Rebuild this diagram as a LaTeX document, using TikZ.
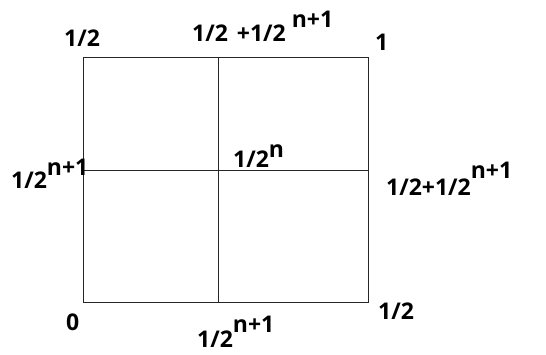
\documentclass[tikz,border=0pt]{standalone}
\usepackage{fontspec}
\setmainfont{Open Sans}
\newcommand{\up}[2]{\raisebox{#1pt}{#2}}

\begin{document}
\begin{tikzpicture}[x=1pt, y=-1pt,
    lab/.style={font=\fontsize{23}{26}\selectfont\bfseries, inner sep=0pt, anchor=base west}]
  \useasboundingbox (0,0) rectangle (546,354);
  % corners and midpoints of the square
  \coordinate (bl) at (83,302);
  \coordinate (br) at (368,302);
  \coordinate (tr) at (368,57);
  \coordinate (tl) at (83,57);
  \coordinate (mt) at (218,57);
  \coordinate (mb) at (218,302);
  \coordinate (ml) at (83,170);
  \coordinate (mr) at (368,170);
  \draw[line width=0.9pt, black!85] (bl) -- (br) -- (tr) -- (tl) -- cycle;
  \draw[line width=0.9pt, black!85] (mt) -- (mb);
  \draw[line width=0.9pt, black!85] (ml) -- (mr);
  % labels
  \node[lab] (tlab) at (64,46) {1/2};
  \node[lab] (mtlab) at (192,41.5) {1/2\hspace{9pt}+1/2\hspace{6pt}\up{14}{n+1}};
  \node[lab] (trlab) at (375,50) {1};
  \node[lab] (mllab) at (11,188) {1/2\up{13}{n+1}};
  \node[lab] (clab) at (233,167) {1/2\up{10}{n}};
  \node[lab] (mrlab) at (386,195) {1/2+1/2\up{17}{n+1}};
  \node[lab] (bllab) at (66,330) {0};
  \node[lab] (brlab) at (378,319) {1/2};
  \node[lab] (mblab) at (197,347) {1/2\up{15}{n+1}};
\end{tikzpicture}
\end{document}
